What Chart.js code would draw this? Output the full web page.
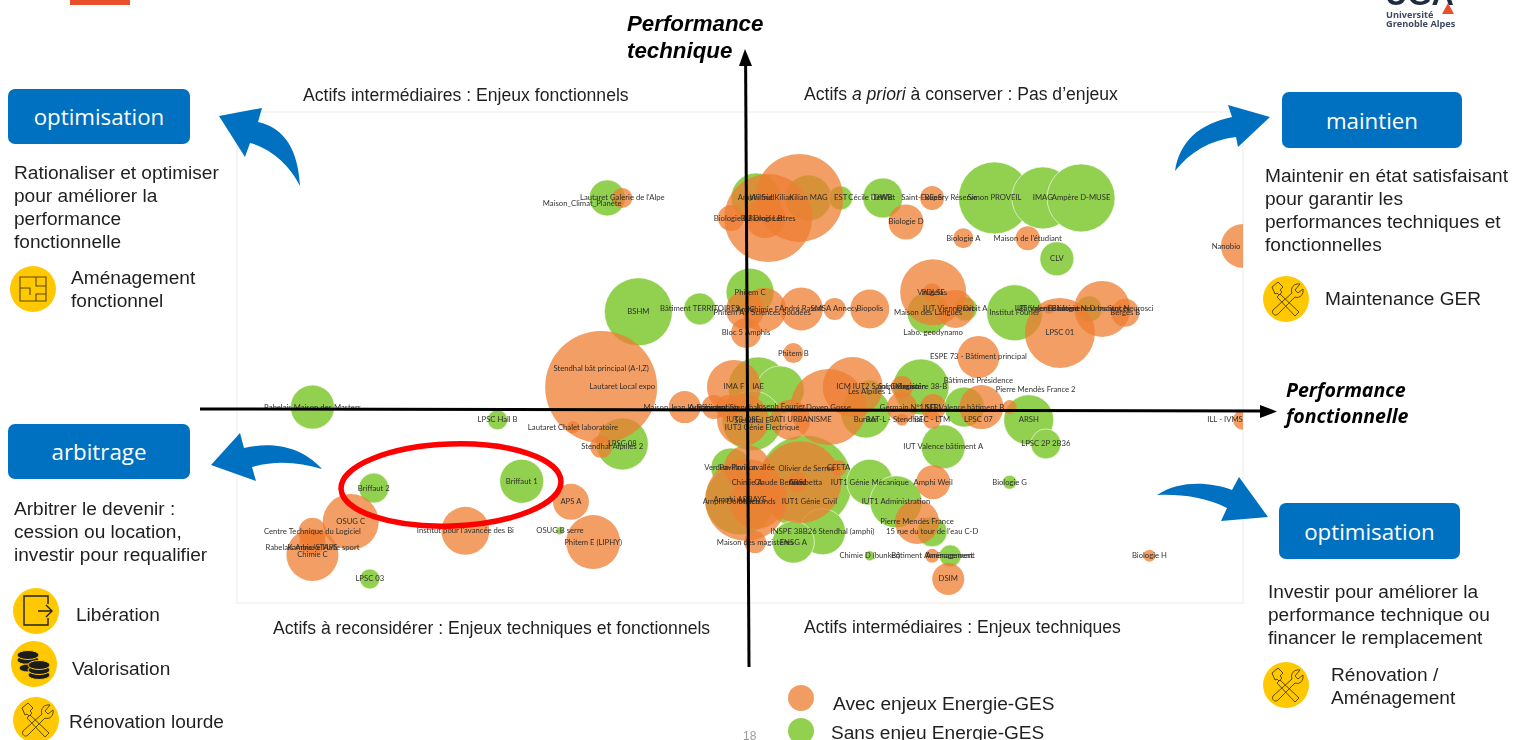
<!DOCTYPE html>
<html lang="fr">
<head>
<meta charset="utf-8">
<title>Performance technique et fonctionnelle</title>
<script src="https://cdn.jsdelivr.net/npm/chart.js@4/dist/chart.umd.min.js"></script>
<style>
  html, body { margin: 0; padding: 0; background: #fff; }
  #page { position: relative; width: 1514px; height: 740px; overflow: hidden; font-family: "Liberation Sans", sans-serif; color: #1f1f1f; }
  #chart { position: absolute; left: 0; top: 0; }
  #overlay { position: absolute; left: 0; top: 0; pointer-events: none; }
  .t { position: absolute; white-space: nowrap; font-size: 19.1px; line-height: 23px; }
  .quad { font-size: 17.6px; line-height: 20px; }
  .box { position: absolute; background: #0070c0; color: #fff; border-radius: 7px; font-family: "Open Sans", sans-serif; font-size: 22.3px; display: flex; align-items: center; justify-content: center; }
  .axis1 { font-weight: bold; font-style: italic; font-size: 22.3px; line-height: 27px; color: #000; }
  .axis2 { font-family: "Open Sans", sans-serif; font-weight: bold; font-style: italic; font-size: 19.6px; line-height: 26px; color: #000; }
  .dot { position: absolute; width: 26px; height: 26px; border-radius: 50%; }
</style>
</head>
<body>
<div id="page">
  <canvas id="chart" width="1514" height="740"></canvas>

  <svg id="overlay" width="1514" height="740" viewBox="0 0 1514 740">
    <defs>
      <g id="tools" fill="none" stroke="#5a4800" stroke-width="1">
        <path d="M-14 -12 L-8 -17 L-3 -12 L-6 -9 L-4 -7 L-7 -4 L-9 -6 L-11 -5 Z"/>
        <path d="M-6 -5 L13 13 L9 17 L-9 -2 Z"/>
        <path d="M14 -15 C8 -16 4 -11 6 -6 L-13 11 C-15 14 -11 18 -8 15 L9 -2 C14 0 18 -5 17 -10 L12 -6 L9 -9 Z"/>
      </g>
    </defs>

    <!-- bandeau haut gauche + logo -->
    <rect x="70" y="0" width="60" height="5" fill="#e8502a"/>
    <text x="1385" y="5" font-family="Liberation Sans" font-weight="bold" font-size="31" fill="#1d2a44">UGA</text>
    <path d="M1442 14 L1448 3 L1454 14 Z" fill="#e8502a"/>
    <text x="1386" y="18" font-family="Open Sans" font-weight="bold" font-size="9.2" fill="#3d4a60">Université</text>
    <text x="1386" y="27" font-family="Open Sans" font-weight="bold" font-size="9.2" fill="#3d4a60">Grenoble Alpes</text>

    <!-- fleches bleues -->
    <g fill="#0070c0">
      <path d="M300 186 C298 150 285 128 258 122 L262 108 L219 116 L245 157 L250 143 C270 148 290 165 300 186 Z"/>
      <path d="M1175 171 C1180 140 1200 124 1232 117 L1228 105 L1270 117 L1238 147 L1236 137 C1210 140 1190 152 1175 171 Z"/>
      <path d="M322 469 C300 445 270 442 244 448 L240 433 L211 465 L256 481 L252 467 C275 460 300 462 322 469 Z"/>
      <path d="M1157 495 C1180 480 1210 482 1232 490 L1239 477 L1268 517 L1221 521 L1227 508 C1205 497 1180 494 1157 495 Z"/>
    </g>

    <!-- axes -->
    <path d="M749 667 L745.6 62" stroke="#000" stroke-width="3" fill="none"/>
    <path d="M745 49 L739 66 L752 66 Z" fill="#000"/>
    <path d="M200 409 L1264 411" stroke="#000" stroke-width="3" fill="none"/>
    <path d="M1277 411.5 L1260 405 L1260 418 Z" fill="#000"/>

    <!-- zone entouree -->
    <ellipse cx="451" cy="485" rx="110" ry="41" transform="rotate(-2 451 485)" fill="none" stroke="#ff0000" stroke-width="5.5"/>

    <!-- pictos -->
    <circle cx="33" cy="289" r="23" fill="#ffc800"/>
    <g fill="none" stroke="#5a4800" stroke-width="1.1">
      <path d="M20 277 H46 V301 H20 Z M20 288 H30 V295 M36 277 V286 H46 M36 301 V294 H46"/>
    </g>
    <circle cx="36" cy="611" r="23" fill="#ffc800"/>
    <g fill="none" stroke="#222" stroke-width="1.4">
      <path d="M48 604 V596 H24 V625 H48 V618"/>
      <path d="M38 611 H51 M46 605 L52 611 L46 617"/>
    </g>
    <circle cx="34" cy="664" r="23" fill="#ffc800"/>
    <g fill="#1c1c1c" stroke="#ffc800" stroke-width="1">
      <ellipse cx="28" cy="660" rx="11" ry="4.5"/>
      <ellipse cx="28" cy="655" rx="11" ry="4.5"/>
      <ellipse cx="28" cy="668" rx="9" ry="4"/>
      <ellipse cx="39" cy="675" rx="11" ry="4.5"/>
      <ellipse cx="39" cy="670" rx="11" ry="4.5"/>
      <ellipse cx="39" cy="665" rx="11" ry="4.5"/>
    </g>
    <circle cx="36" cy="720" r="23" fill="#ffc800"/>
    <use href="#tools" x="36" y="720"/>
    <circle cx="1286" cy="299" r="23" fill="#ffc800"/>
    <use href="#tools" x="1286" y="299"/>
    <circle cx="1286" cy="685" r="23" fill="#ffc800"/>
    <use href="#tools" x="1286" y="685"/>
  </svg>

  <div class="t axis1" style="left:627px;top:10px">Performance<br>technique</div>
  <div class="t axis2" style="left:1286px;top:377px">Performance<br>fonctionnelle</div>

  <div class="t quad" style="left:303px;top:85px">Actifs intermédiaires : Enjeux fonctionnels</div>
  <div class="t quad" style="left:804px;top:84px">Actifs <i>a priori</i> à conserver : Pas d’enjeux</div>
  <div class="t quad" style="left:273px;top:618px">Actifs à reconsidérer : Enjeux techniques et fonctionnels</div>
  <div class="t quad" style="left:804px;top:617px">Actifs intermédiaires : Enjeux techniques</div>

  <div class="box" style="left:8px;top:89px;width:182px;height:55px">optimisation</div>
  <div class="box" style="left:8px;top:424px;width:182px;height:55px">arbitrage</div>
  <div class="box" style="left:1282px;top:92px;width:180px;height:56px">maintien</div>
  <div class="box" style="left:1279px;top:503px;width:181px;height:56px">optimisation</div>

  <div class="t" style="left:14px;top:161px">Rationaliser et optimiser<br>pour améliorer la<br>performance<br>fonctionnelle</div>
  <div class="t" style="left:71px;top:266px">Aménagement<br>fonctionnel</div>
  <div class="t" style="left:14px;top:497px">Arbitrer le devenir :<br>cession ou location,<br>investir pour requalifier</div>
  <div class="t" style="left:76px;top:603px">Libération</div>
  <div class="t" style="left:72px;top:657px">Valorisation</div>
  <div class="t" style="left:69px;top:710px">Rénovation lourde</div>

  <div class="t" style="left:1265px;top:164px">Maintenir en état satisfaisant<br>pour garantir les<br>performances techniques et<br>fonctionnelles</div>
  <div class="t" style="left:1325px;top:287px">Maintenance GER</div>
  <div class="t" style="left:1268px;top:580px">Investir pour améliorer la<br>performance technique ou<br>financer le remplacement</div>
  <div class="t" style="left:1331px;top:663px">Rénovation /<br>Aménagement</div>

  <div class="dot" style="left:788px;top:685px;background:#f19c63"></div>
  <div class="t" style="left:833px;top:692px">Avec enjeux Energie-GES</div>
  <div class="dot" style="left:788px;top:718px;background:#92d050"></div>
  <div class="t" style="left:831px;top:721px">Sans enjeu Energie-GES</div>
  <div class="t" style="left:743px;top:725px;font-size:12px;color:#9a9a9a">18</div>
</div>

<script>
/* batiments sans enjeu Energie-GES : nom, perf. fonctionnelle, perf. technique, surface */
const nomsVert = ["Maison_Climat_Planète","Amphi Sud","Kilian MAG","EST","DWB","BEeS","Simon PROVEIL","IMAG","Ampère D-MUSE","CLV",
  "BSHM","Bâtiment TERRITOIRES","Phitem C","Maison des Langues","Droit","Institut Fourier","Bâtiment Neurosciences",
  "Rabelais Maison des Masters","LPSC Hall B","LPSC 08","Briffaut 2","Briffaut 1","OSUG B serre","LPSC 03",
  "IAE","Joseph Fourier","Stendhal E","Les Alpilles 1","Magistère 38-B","Bunker","IUT Valence bâtiment B","ARSH","LPSC 2P 2B36",
  "IUT Valence bâtiment A","Verdun-Pavillon","Gambetta","IUT1 Génie Mécanique","IUT1 Administration","15 rue du tour de l'eau C-D",
  "INSPE 38B26 Stendhal (amphi)","ENSG A","Chimie D (bunker)","Aménagement","Biologie G","Amphi ABBAYE","Cécile DeWitt"];
const xVert = [36.8,51.6,56.8,60.0,64.2,69.2,75.3,80.1,83.9,81.5,
  39.9,46.0,51.0,68.7,72.4,77.3,84.7,
  7.5,25.9,38.3,13.6,28.3,32.1,13.2,
  51.8,54.0,51.2,62.9,68.0,62.5,72.3,78.7,80.4,
  70.2,49.1,56.5,62.9,65.5,69.1,
  58.2,55.3,62.9,70.9,76.8,50.0,63.1];
const yVert = [82.5,82.5,82.5,82.5,82.5,82.5,82.5,82.5,82.5,70.1,
  59.3,59.9,63.3,59.1,59.9,59.1,59.9,
  39.9,37.3,32.4,23.4,24.8,14.7,4.9,
  44.0,43.4,37.1,43.0,44.0,38.7,39.9,37.3,32.4,
  31.8,27.5,24.6,24.6,20.6,14.5,
  14.5,12.4,9.6,9.6,24.6,21.0,82.5];
const surfVert = [324,625,529,144,400,9,1296,961,1156,289,
  1156,256,576,441,144,784,169,
  484,100,676,225,484,16,100,
  900,576,900,144,784,625,400,625,225,
  484,400,2209,529,676,225,
  529,441,25,121,49,1225,4];

/* batiments avec enjeux Energie-GES */
const nomsOrange = ["Lautaret Galerie de l'Alpe","Wilfrid Kilian","BU Droit Lettres","Biologie C","Biologie B","Saint-Exupéry Réserve","Biologie D","Biologie A","Maison de l'étudiant","Nanobio",
  "PDLSE","Vaugelas","IUT Vienne Droit A","Archi","Chimie F","Phitem A - Sciences Soudées","André Rassat","SMSA Annecy","Biopolis","Bloc 5 Amphis",
  "Labo. geodynamo","LPSC 01","Bâtiment Biologie","IUT Valence bâtiment D Institut Neurosci","Bergès B","Phitem B","ESPE 73 - Bâtiment principal",
  "Stendhal bât principal (A-I,Z)","Lautaret Local expo","IMA F","Maison Jean Kuntzmann","Administration","Bâtiment Stendhal","IUT3 OSE","IUT3 Génie Electrique","BATI URBANISME",
  "Doyen Gosse","ICM IUT2 Saint Germain","Saint Germain","Germain N°1","BAT-L - Stendhal","SFRI","BEC - LTM","Bâtiment Présidence","LPSC 07","Pierre Mendès France 2","ILL - IVMS",
  "Lautaret Chalet laboratoire","Stendhal Alpilles 2","APS A","OSUG C","Institut pour l'avancée des Bi","Phitem E (LIPHY)","Centre Technique du Logiciel","Rabelais Annexe Halle sport","Kambis/STAPS","Chimie C",
  "Pavillon Lavallée","Olivier de Serres","CEETA","ARSJ","Chimie A","Claude Bernard","Amphi Dolomieu","Marchands","IUT1 Génie Civil","Maison des magistères","Amphi Weil","Pierre Mendès France","Bâtiment Aménagement","DSIM","Biologie H"];
const xOrange = [38.3,55.9,52.8,49.1,52.5,69.1,66.5,72.2,78.6,100,
  69.2,69.1,71.4,50.5,52.4,52.2,56.1,59.4,62.9,50.6,
  69.2,81.8,80.7,86.0,88.3,55.3,73.7,
  36.2,38.3,49.4,44.5,47.4,48.8,50.3,52.2,55.0,
  58.8,61.2,66.1,66.1,66.1,69.2,69.1,74.0,73.7,76.8,100,
  33.4,36.2,33.2,11.3,22.7,35.4,7.5,7.5,7.5,7.5,
  50.7,56.0,59.8,55.7,50.7,54.0,50.6,51.7,56.9,51.5,69.2,67.6,69.1,70.7,90.7];
const yOrange = [82.5,82.5,78.4,78.4,78.4,82.5,77.6,74.3,74.3,72.7,
  63.3,63.3,59.9,59.7,59.7,59.1,59.9,59.9,59.9,55.0,
  55.0,55.0,59.9,59.9,59.1,50.9,50.1,
  44.0,44.0,44.0,39.9,39.9,39.9,37.3,35.8,37.3,
  39.9,44.0,44.0,39.9,37.3,39.9,37.3,39.9,37.3,39.9,37.3,
  35.8,31.8,20.6,16.5,14.7,12.4,14.5,12.4,12.4,9.8,
  27.5,24.6,27.5,24.6,24.6,24.6,21.0,20.6,20.6,12.4,24.6,16.5,9.6,4.9,9.6];
const surfOrange = [100,1936,1936,169,400,144,306,100,144,484,
  1089,81,361,361,484,9,462,121,380,225,
  1,1225,25,784,196,100,441,
  3136,1,729,256,144,144,676,9,400,
  1444,900,121,225,36,169,81,484,4,49,100,
  36,121,324,784,576,729,196,169,1,676,
  529,1681,64,100,1,1,1681,729,1,121,289,484,49,256,36];

/* etiquettes decalees par rapport au centre de la bulle (px) */
const decalages = {
  "Maison_Climat_Planète": [-25, 6], "Wilfrid Kilian": [-28, 0], "Saint-Exupéry Réserve": [7, 0],
  "Nanobio": [-17, 0], "ILL - IVMS": [-18, 0], "Stendhal bât principal (A-I,Z)": [0, -18],
  "ICM IUT2 Saint Germain": [25, 0], "BAT-L - Stendhal": [-8, 0], "Bâtiment Présidence": [-3, -27],
  "Pierre Mendès France 2": [26, -18], "Stendhal Alpilles 2": [11, 0], "Olivier de Serres": [6, -14],
  "Amphi Dolomieu": [-15, 2], "BATI URBANISME": [10, 0], "Joseph Fourier": [0, 17],
  "Bunker": [0, 7], "IUT Valence bâtiment D Institut Neurosci": [-18, 0], "Rabelais Annexe Halle sport": [0, 5],
  "Kambis/STAPS": [0, 5]
};

const points = (noms, xs, ys, surf) =>
  noms.map((nom, i) => ({ x: xs[i], y: ys[i], r: Math.sqrt(surf[i]), nom }));

/* cadre gris clair du graphique */
const cadre = {
  id: 'cadre',
  beforeDraw(chart) {
    const { ctx, chartArea: a } = chart;
    ctx.save();
    ctx.strokeStyle = '#ebebeb';
    ctx.lineWidth = 1;
    ctx.strokeRect(a.left, a.top, a.width, a.height);
    ctx.restore();
  }
};

/* noms des batiments au centre des bulles */
const etiquettes = {
  id: 'etiquettes',
  afterDatasetsDraw(chart) {
    const { ctx } = chart;
    ctx.save();
    ctx.font = '7.7px Lato, sans-serif';
    ctx.fillStyle = 'rgba(40,40,40,0.95)';
    ctx.textAlign = 'center';
    ctx.textBaseline = 'middle';
    chart.data.datasets.forEach((ds, d) => {
      chart.getDatasetMeta(d).data.forEach((el, i) => {
        const nom = ds.data[i].nom;
        const [dx, dy] = decalages[nom] || [0, 0];
        ctx.fillText(nom, el.x + dx, el.y + dy);
      });
    });
    ctx.restore();
  }
};

/* le premier dataset est dessine au-dessus : orange d'abord */
new Chart(document.getElementById('chart'), {
  type: 'bubble',
  data: {
    datasets: [
      {
        label: 'Avec enjeux Energie-GES',
        data: points(nomsOrange, xOrange, yOrange, surfOrange),
        backgroundColor: 'rgba(237,125,49,0.75)',
        borderWidth: 0,
        clip: 0
      },
      {
        label: 'Sans enjeu Energie-GES',
        data: points(nomsVert, xVert, yVert, surfVert),
        backgroundColor: '#92d050',
        borderColor: 'rgba(255,255,255,0.6)',
        borderWidth: 1,
        clip: 0
      }
    ]
  },
  options: {
    responsive: false,
    animation: false,
    events: [],
    layout: { padding: { left: 237, top: 112, right: 271, bottom: 137 } },
    plugins: { legend: { display: false }, tooltip: { enabled: false } },
    scales: {
      x: { min: 0, max: 100, display: false },
      y: { min: 0, max: 100, display: false }
    }
  },
  plugins: [cadre, etiquettes]
});
</script>
</body>
</html>
